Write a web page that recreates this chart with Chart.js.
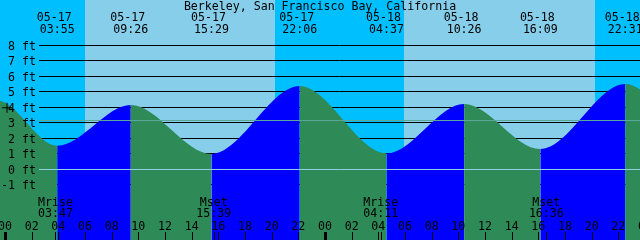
<!DOCTYPE html>
<html>
<head>
<meta charset="utf-8">
<script src="https://cdn.jsdelivr.net/npm/chart.js@4"></script>
<style>
  body { margin: 0; background: #fff; }
  #wrap { width: 640px; height: 240px; }
</style>
</head>
<body>
<div id="wrap"><canvas id="tideChart"></canvas></div>
<script>
// tide highs/lows; the first two and last two sit outside the visible window
const tideDates = ['05-16', '05-16', '05-17', '05-17', '05-17', '05-17', '05-18', '05-18', '05-18', '05-18', '05-19', '05-19'];
const tideTimes = ['16:40', '23:24', '03:55', '09:26', '15:29', '22:06', '04:37', '10:26', '16:09', '22:31', '05:15', '11:10'];
const tideFeet  = [1.10, 4.42, 1.50, 4.13, 0.97, 5.35, 1.01, 4.20, 1.29, 5.48, 0.60, 4.30];

const sunriseTimes = ['05-17 06:00', '05-18 05:56'];
const sunsetTimes  = ['05-17 20:15', '05-18 20:15'];

const moonDates  = ['05-17', '05-17', '05-18', '05-18'];
const moonTimes  = ['03:47', '15:39', '04:11', '16:36'];
const moonEvents = ['Mrise', 'Mset', 'Mrise', 'Mset'];

const footLevels = [8, 7, 6, 5, 4, 3, 2, 1, 0, -1];
const meanLevel = 3.14;
const hourLabels = ['00', '02', '04', '06', '08', '10', '12', '14', '16', '18', '20', '22',
                    '00', '02', '04', '06', '08', '10', '12', '14', '16', '18', '20', '22', '00'];

const nowStamp = '05-17 00:09';
const nowFeet = 3.95;

const title = 'Berkeley, San Francisco Bay, California';

const NIGHT = '#00bfff';
const DAY = '#87ceeb';
const FLOOD = '#0000ff';
const EBB = '#2e8b57';
const FONT = '11.6px "DejaVu Sans Mono", monospace';

// 'MM-DD HH:MM' -> hours since 05-17 00:00
function toHours(stamp) {
    const [d, t] = stamp.split(' ');
    const day = parseInt(d.slice(3), 10) - 17;
    const [hh, mm] = t.split(':').map(Number);
    return day * 24 + hh + mm / 60;
}

const tidePoints = tideTimes.map((t, i) => ({x: toHours(tideDates[i] + ' ' + t), y: tideFeet[i]}));

const tideDecor = {
    id: 'tideDecor',
    beforeDraw(chart) {
        const {ctx, chartArea: a, scales: {x, y}} = chart;
        ctx.save();
        ctx.fillStyle = NIGHT;
        ctx.fillRect(a.left, a.top, a.width, a.height);
        ctx.fillStyle = DAY;
        sunriseTimes.forEach((s, i) => {
            const x0 = Math.round(x.getPixelForValue(toHours(s)));
            const x1 = Math.round(x.getPixelForValue(toHours(sunsetTimes[i])));
            ctx.fillRect(x0, a.top, x1 - x0, a.height);
        });
        ctx.strokeStyle = '#000';
        ctx.lineWidth = 1;
        ctx.beginPath();
        footLevels.forEach(f => {
            const py = Math.round(y.getPixelForValue(f)) + 0.5;
            ctx.moveTo(39, py);
            ctx.lineTo(a.right, py);
        });
        ctx.stroke();
        ctx.restore();
    },
    afterDatasetsDraw(chart) {
        const {ctx, chartArea: a, scales: {x, y}} = chart;
        ctx.save();
        // mean level and zero lines
        ctx.lineWidth = 1;
        ctx.strokeStyle = '#5aa89a';
        let py = Math.round(y.getPixelForValue(meanLevel)) + 0.5;
        ctx.beginPath(); ctx.moveTo(39, py); ctx.lineTo(a.right, py); ctx.stroke();
        ctx.strokeStyle = '#8fd0e8';
        py = Math.round(y.getPixelForValue(0)) + 0.5;
        ctx.beginPath(); ctx.moveTo(39, py); ctx.lineTo(a.right, py); ctx.stroke();

        ctx.font = FONT;
        ctx.fillStyle = '#000';
        ctx.textBaseline = 'alphabetic';

        ctx.textAlign = 'center';
        ctx.fillText(title, (a.left + a.right) / 2, 10);

        // high / low stamps along the top
        tidePoints.forEach((p, i) => {
            if (p.x < x.min || p.x > x.max) return;
            const px = x.getPixelForValue(p.x);
            ctx.fillText(tideDates[i], px - 3, 21);
            ctx.fillText(tideTimes[i], px, 33);
        });

        // foot labels
        ctx.textAlign = 'right';
        footLevels.forEach(f => {
            ctx.fillText(f + ' ft', 36, Math.round(y.getPixelForValue(f)) + 4.5);
        });

        // moon rise / set
        ctx.textAlign = 'center';
        moonTimes.forEach((t, i) => {
            const px = x.getPixelForValue(toHours(moonDates[i] + ' ' + t));
            ctx.fillText(moonEvents[i], px, 206);
            ctx.fillText(t, px, 217);
            ctx.fillRect(Math.round(px), 232, 1, 8);
        });

        // hour axis
        hourLabels.forEach((lab, i) => {
            const px = x.getPixelForValue(i * 2);
            ctx.fillText(lab, px, 230);
            if (lab === '00') {
                ctx.fillRect(Math.round(px) - 1, 232, 3, 8);
            } else {
                ctx.fillRect(Math.round(px), 232, 1, 8);
            }
        });
        ctx.restore();
    }
};

new Chart(document.getElementById('tideChart'), {
    type: 'line',
    data: {
        datasets: [{
            label: 'now',
            data: [{x: toHours(nowStamp), y: nowFeet}],
            showLine: false,
            pointStyle: 'cross',
            pointRadius: 5,
            pointBorderColor: '#000',
            pointBorderWidth: 1,
            borderColor: '#000',
            borderWidth: 1,
        }, {
            label: 'tide',
            data: tidePoints,
            cubicInterpolationMode: 'monotone',
            fill: 'start',
            borderWidth: 0,
            borderColor: 'rgba(0,0,0,0)',
            backgroundColor: EBB,
            pointRadius: 0,
            segment: {
                backgroundColor: c => c.p1.parsed.y > c.p0.parsed.y ? FLOOD : EBB,
            },
        }],
    },
    options: {
        animation: false,
        responsive: true,
        maintainAspectRatio: false,
        layout: {padding: 0, autoPadding: false},
        plugins: {legend: {display: false}, tooltip: {enabled: false}},
        scales: {
            x: {
                type: 'linear',
                display: false,
                bounds: 'data',
                afterDataLimits: s => { s.min = -0.375; s.max = 47.625; },
            },
            y: {
                display: false,
                min: -4.581,
                max: 10.903,
            },
        },
    },
    plugins: [tideDecor],
});
</script>
</body>
</html>
